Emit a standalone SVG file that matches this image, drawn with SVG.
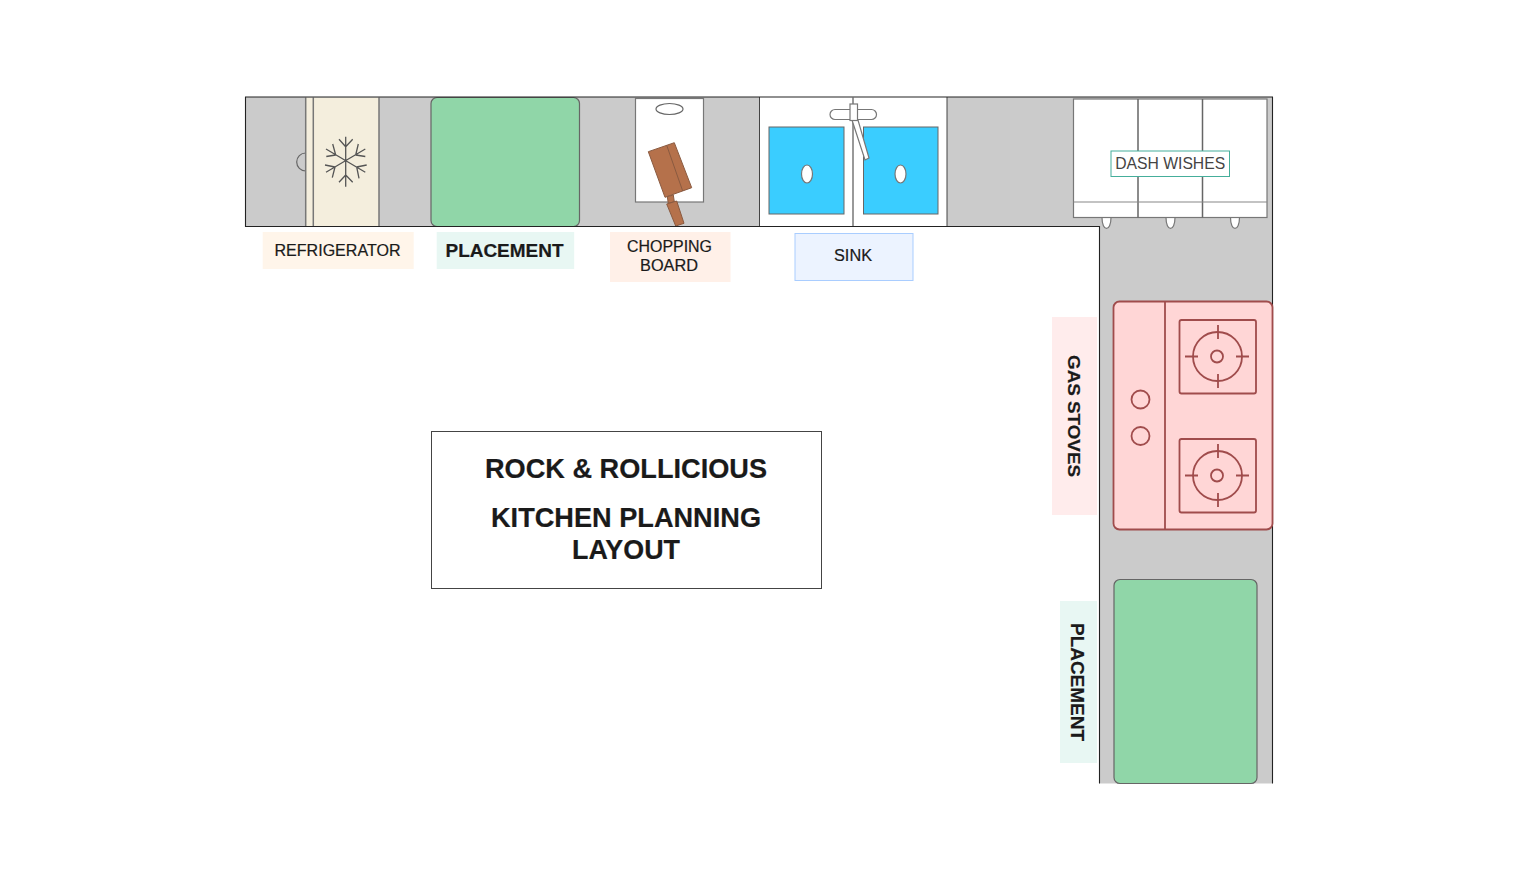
<svg xmlns="http://www.w3.org/2000/svg" width="1516" height="872" viewBox="0 0 1516 872">
<style>
text{font-family:"Liberation Sans",Arial,sans-serif;fill:#1a1a1a;text-anchor:middle;stroke:#1a1a1a;stroke-width:.2}
.b{font-weight:bold}
.g{fill:#90d6a8;stroke:#666;stroke-width:1.2}
.ln{fill:none;stroke:#777;stroke-width:1.5}
.w{fill:#fff;stroke:#777;stroke-width:1.2}
.blue{fill:#3acdff;stroke:#666;stroke-width:1}
.br{fill:#b5714b;stroke:#8a5a40;stroke-width:1}
.st{fill:none;stroke:#a04c4c;stroke-width:1.8}
.sn{fill:none;stroke:#555;stroke-width:1.3}
</style>
<rect width="1516" height="872" fill="#fff"/>
<g id="counter">
<path d="M245.500 97H1272.500V783.500H1099.500V226.500H245.500Z" fill="#cbcbcb"/>
</g>
<g id="refrigerator">
<path d="M305.700 153A9 9 0 0 0 305.700 171" fill="#cbcbcb" stroke="#666" stroke-width="1.200"/>
<rect x="305.700" y="97.500" width="73.300" height="128.500" fill="#f4eedd"/>
<path class="ln" d="M305.700 97.500V226M313.300 97.500V226M379 97.500V226"/>
<path class="sn" d="M345.700 136.700V186.700M345.700 146.700L339 139.300M345.700 146.700L352.700 139.300M345.700 175L339 182.300M345.700 175L352.700 182.300M326 149L365.300 172.300M365.300 149L326 172.300M335.700 155L326.300 156.500M335.700 155L332.700 144M355.700 155L365.300 156.500M355.700 155L358.300 144M335 167L325 165M335 167L332.300 177.700M356.700 167L366.700 165M356.700 167L359 178.300"/>
</g>
<g id="placement-top"><rect class="g" x="431" y="97.500" width="148.500" height="129" rx="6"/></g>
<g id="chopping-board">
<rect class="w" x="635.500" y="98.500" width="68" height="103.500"/>
<ellipse cx="669.500" cy="109" rx="13.500" ry="5.500" fill="none" stroke="#666" stroke-width="1.200"/>
<polygon class="br" points="648.300,151.700 674.300,142.700 691.700,187.700 665,197.300"/>
<path d="M666.700 145.300L682.700 191" stroke="#8a5a40" stroke-width="1" fill="none"/>
<polygon class="br" points="667.300,196.700 673.300,195 674.300,201.700 668.300,203.300"/>
<polygon class="br" points="666.700,204 676.700,201 684,223.300 675.700,226"/>
</g>
<g id="sink">
<rect x="759.500" y="97" width="187.500" height="129.500" fill="#fff"/>
<path d="M759.500 97V226.500M947 97V226.500" fill="none" stroke="#444" stroke-width="1"/>
<path class="ln" d="M853 97.500V226"/>
<rect class="blue" x="769" y="127" width="75" height="87"/>
<rect class="blue" x="863.500" y="127" width="74.500" height="87"/>
<ellipse class="w" cx="807" cy="174" rx="5.500" ry="9"/>
<ellipse class="w" cx="900.500" cy="174" rx="5.500" ry="9"/>
<rect class="w" x="830" y="109.500" width="46.500" height="10" rx="5"/>
<polygon class="w" points="852,120 858,120 869,158 865,160"/>
<rect class="w" x="850" y="104" width="7.500" height="16.500"/>
</g>
<g id="dishwashers">
<path class="w" d="M1102 217.500C1102 232 1111 232 1111 217.500ZM1166 217.500C1166 232 1175 232 1175 217.500ZM1230.500 217.500C1230.500 232 1239.500 232 1239.500 217.500Z"/>
<rect class="w" x="1073.500" y="99" width="193.500" height="118.500"/>
<path d="M1138 99V217.500M1202.500 99V217.500" stroke="#666" stroke-width="1.500" fill="none"/>
<path d="M1073.500 202H1267" stroke="#888" stroke-width="1.200" fill="none"/>
<rect x="1111" y="151" width="118.500" height="25.500" fill="#fff" stroke="#45ae9b" stroke-width="1"/>
<text x="1170.200" y="169" font-size="16.500" textLength="110" lengthAdjust="spacingAndGlyphs" style="fill:#444;stroke:none">DASH WISHES</text>
</g>
<g id="counter-edge">
<path d="M1099.500 783.500V226.500H245.500V97H1272.500V783.500" fill="none" stroke="#222" stroke-width="1.100"/>
</g>
<g id="gas-stove">
<rect x="1113.500" y="301.500" width="159" height="228" rx="6" fill="#ffd6d6" stroke="#a04c4c" stroke-width="1.800"/>
<path class="st" d="M1165 301.500V529.500"/>
<circle class="st" cx="1140.500" cy="399.500" r="9"/>
<circle class="st" cx="1140.500" cy="436" r="9"/>
<g id="burner-1">
<rect class="st" x="1179.500" y="320" width="76.500" height="73.500" rx="2"/>
<circle class="st" cx="1217.500" cy="356.500" r="24.500"/><circle class="st" cx="1217" cy="356.500" r="6"/>
<path class="st" d="M1218 325V339M1218 374V388M1185 356.500H1198M1236 356.500H1249"/>
</g>
<g id="burner-2">
<rect class="st" x="1179.500" y="439" width="76.500" height="73.500" rx="2"/>
<circle class="st" cx="1217.500" cy="475.500" r="24.500"/><circle class="st" cx="1217" cy="475.500" r="6"/>
<path class="st" d="M1218 444V458M1218 493V507M1185 475.500H1198M1236 475.500H1249"/>
</g>
</g>
<g id="placement-right"><rect class="g" x="1114" y="579.500" width="143" height="204" rx="6"/></g>
<g id="label-refrigerator"><rect x="262.700" y="232" width="151" height="37" fill="#fff5ea"/><text x="337.500" y="255.500" font-size="16" textLength="126" lengthAdjust="spacingAndGlyphs">REFRIGERATOR</text></g>
<g id="label-placement-top"><rect x="436.700" y="232" width="137.500" height="37" fill="#e8f7f3"/><text class="b" x="504.500" y="256.500" font-size="18" textLength="118" lengthAdjust="spacingAndGlyphs">PLACEMENT</text></g>
<g id="label-chopping-board"><rect x="610" y="232" width="120.500" height="50" fill="#fff0e8"/><text x="669.500" y="251.500" font-size="16" textLength="85" lengthAdjust="spacingAndGlyphs">CHOPPING</text><text x="669" y="271" font-size="16" textLength="58" lengthAdjust="spacingAndGlyphs">BOARD</text></g>
<g id="label-sink"><rect x="795" y="233.500" width="118" height="47" fill="#ecf3ff" stroke="#a9cdff" stroke-width="1"/><text x="853" y="261" font-size="16" textLength="38" lengthAdjust="spacingAndGlyphs">SINK</text></g>
<g id="label-gas-stoves"><rect x="1052" y="317" width="45" height="198" fill="#ffecec"/><text class="b" transform="translate(1068,416) rotate(90)" font-size="17" textLength="122" lengthAdjust="spacingAndGlyphs">GAS STOVES</text></g>
<g id="label-placement-right"><rect x="1060" y="601" width="37" height="162" fill="#e8f7f3"/><text class="b" transform="translate(1071,682) rotate(90)" font-size="18" textLength="118" lengthAdjust="spacingAndGlyphs">PLACEMENT</text></g>
<g id="title">
<rect x="431.500" y="431.500" width="390" height="157" fill="#fff" stroke="#444" stroke-width="1"/>
<text class="b" x="626" y="477.500" font-size="27" textLength="282" lengthAdjust="spacingAndGlyphs">ROCK &amp; ROLLICIOUS</text>
<text class="b" x="626" y="526.500" font-size="27" textLength="270" lengthAdjust="spacingAndGlyphs">KITCHEN PLANNING</text>
<text class="b" x="626" y="559" font-size="27" textLength="108" lengthAdjust="spacingAndGlyphs">LAYOUT</text>
</g>
</svg>
